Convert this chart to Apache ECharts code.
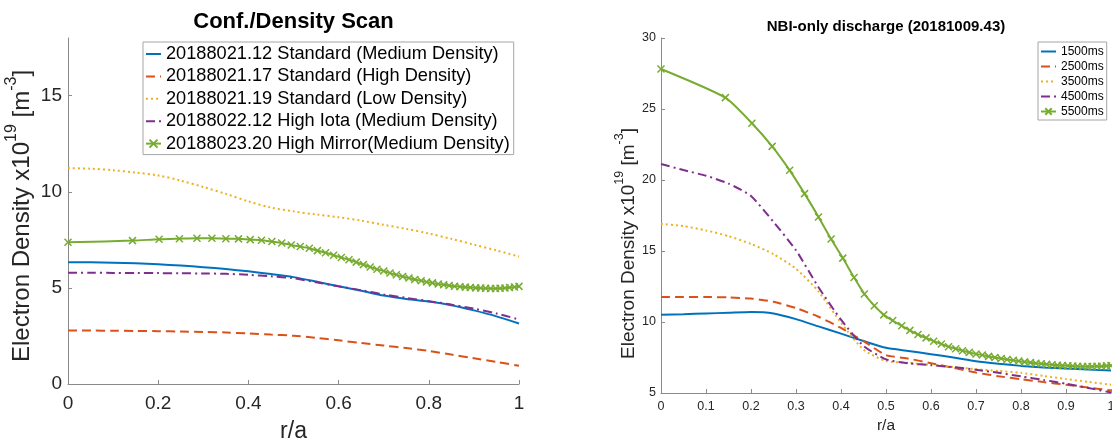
<!DOCTYPE html>
<html>
<head>
<meta charset="utf-8">
<script src="https://cdn.jsdelivr.net/npm/echarts@6/dist/echarts.min.js"></script>
<style>
  html, body { margin: 0; padding: 0; background: #fff; }
  #chart { width: 1112px; height: 440px; }
</style>
</head>
<body>
<div id="chart"></div>
<script>
// radial grid of the profiles with markers (dense towards the edge)
const rGrid = [0, 0.143, 0.202, 0.247, 0.286, 0.319, 0.350, 0.378, 0.404, 0.429,
  0.452, 0.474, 0.495, 0.515, 0.535, 0.553, 0.571, 0.589, 0.606, 0.623,
  0.639, 0.655, 0.670, 0.685, 0.700, 0.714, 0.728, 0.742, 0.756, 0.769,
  0.783, 0.795, 0.808, 0.821, 0.833, 0.845, 0.857, 0.869, 0.881, 0.892,
  0.904, 0.915, 0.926, 0.937, 0.948, 0.958, 0.969, 0.979, 0.990, 1.000];
// sampling used for the plain curves
const rStep = [0, 0.05, 0.1, 0.15, 0.2, 0.25, 0.3, 0.35, 0.4, 0.45, 0.5,
  0.55, 0.6, 0.65, 0.7, 0.75, 0.8, 0.85, 0.9, 0.95, 1];

// left panel: Conf./Density Scan
const scanNames = [
  '20188021.12 Standard (Medium Density)',
  '20188021.17 Standard (High Density)',
  '20188021.19 Standard (Low Density)',
  '20188022.12 High Iota (Medium Density)',
  '20188023.20 High Mirror(Medium Density)'
];
const stdMedium = [6.34, 6.33, 6.31, 6.28, 6.23, 6.16, 6.08, 5.98, 5.86, 5.72, 5.56,
  5.33, 5.08, 4.85, 4.60, 4.42, 4.29, 4.10, 3.83, 3.52, 3.15];
const stdHigh = [2.78, 2.78, 2.77, 2.76, 2.75, 2.73, 2.71, 2.68, 2.63, 2.57, 2.51,
  2.40, 2.27, 2.13, 2.00, 1.87, 1.72, 1.53, 1.34, 1.15, 0.95];
const stdLow = [11.23, 11.20, 11.12, 11.00, 10.85, 10.58, 10.25, 9.89, 9.50, 9.18, 8.98,
  8.82, 8.68, 8.50, 8.28, 8.07, 7.83, 7.55, 7.25, 6.95, 6.63];
const highIota = [5.79, 5.79, 5.78, 5.78, 5.77, 5.76, 5.75, 5.73, 5.68, 5.60, 5.50,
  5.29, 5.08, 4.88, 4.66, 4.48, 4.31, 4.13, 3.92, 3.67, 3.35];
const highMirror = [7.37, 7.46, 7.53, 7.56, 7.58, 7.58, 7.56, 7.55, 7.51, 7.48,
  7.41, 7.34, 7.23, 7.15, 7.06, 6.94, 6.83, 6.70, 6.58, 6.46,
  6.34, 6.21, 6.09, 5.97, 5.88, 5.77, 5.68, 5.59, 5.51, 5.44,
  5.37, 5.31, 5.26, 5.20, 5.16, 5.12, 5.09, 5.06, 5.04, 5.02,
  5.00, 4.99, 4.98, 4.97, 4.97, 4.98, 4.99, 5.02, 5.05, 5.08];

// right panel: NBI-only discharge
const timeNames = ['1500ms', '2500ms', '3500ms', '4500ms', '5500ms'];
const t1500 = [10.51, 10.55, 10.60, 10.65, 10.70, 10.60, 10.20, 9.69, 9.18, 8.66, 8.18,
  7.96, 7.73, 7.50, 7.24, 7.06, 6.91, 6.80, 6.72, 6.65, 6.59];
const t2500 = [11.76, 11.76, 11.76, 11.73, 11.65, 11.42, 10.98, 10.37, 9.58, 8.65, 7.67,
  7.42, 7.10, 6.77, 6.44, 6.18, 5.97, 5.77, 5.58, 5.38, 5.18];
const t3500 = [16.92, 16.75, 16.45, 16.05, 15.50, 14.78, 13.75, 12.15, 9.95, 8.05, 7.25,
  7.12, 6.98, 6.83, 6.68, 6.55, 6.42, 6.20, 5.98, 5.78, 5.58];
const t4500 = [21.13, 20.70, 20.30, 19.75, 18.87, 17.05, 15.05, 12.45, 10.16, 8.32, 7.37,
  7.09, 6.96, 6.82, 6.64, 6.42, 6.17, 5.92, 5.65, 5.35, 5.04];
const t5500 = [27.82, 25.80, 24.00, 22.37, 20.68, 19.04, 17.40, 15.84, 14.50, 13.14,
  11.97, 11.15, 10.50, 10.10, 9.73, 9.41, 9.12, 8.88, 8.65, 8.45,
  8.26, 8.12, 7.98, 7.86, 7.75, 7.67, 7.58, 7.50, 7.43, 7.36,
  7.30, 7.25, 7.19, 7.14, 7.10, 7.06, 7.02, 6.99, 6.96, 6.94,
  6.92, 6.90, 6.88, 6.87, 6.87, 6.87, 6.88, 6.89, 6.91, 6.93];

const leftYTicks = [0, 5, 10, 15];

// matlab default colours
const colors = ['#0072BD', '#D95319', '#EDB120', '#7E2F8E', '#77AC30'];
const dashes = ['solid', [9, 5], [2, 3], [9, 4, 2, 4], 'solid'];
const crossMark = 'path://M0,0L10,10M10,0L0,10';
const axisGray = '#8a8a8a';
const labelColor = '#262626';

const pairs = (xs, ys) => ys.map((v, i) => [xs[i], v]);

function makeSeries(names, datas, xs, idx, smooth) {
  return names.map((name, i) => {
    const marked = i === 4;
    return {
      name: name,
      type: 'line',
      xAxisIndex: idx,
      yAxisIndex: idx,
      data: pairs(xs[i], datas[i]),
      smooth: smooth,
      symbol: marked ? crossMark : 'none',
      symbolSize: 7,
      showSymbol: marked,
      itemStyle: { color: colors[i], borderColor: colors[i], borderWidth: 1.5 },
      lineStyle: { color: colors[i], width: 2, type: dashes[i] },
      emphasis: { disabled: true },
    };
  });
}

// legend entries: hide the default dot for curves drawn without markers
const legendItems = (names) => names.map((n, i) =>
  i === 4 ? { name: n } : { name: n, itemStyle: { opacity: 0 } });

function yName(size, supSize, pad) {
  return {
    text: '{a|Electron Density x10}{s|19}{a| [m}{s|-3}{a|]}',
    style: {
      padding: pad,
      rich: {
        a: { fontSize: size, lineHeight: size + 6, verticalAlign: 'bottom', color: labelColor },
        s: { fontSize: supSize, lineHeight: supSize + 2, verticalAlign: 'top', color: labelColor },
      },
    },
  };
}

const chart = echarts.init(document.getElementById('chart'), null, { renderer: 'canvas' });
const yl = yName(24, 16, [0, 10, 0, 0]);
const yr = yName(19, 12.5, [0, 56, 0, 0]);

const option = {
  animation: false,
  textStyle: { fontFamily: 'Liberation Sans' },
  title: [
    {
      text: 'Conf./Density Scan',
      left: 293.5, top: 11, textAlign: 'center', padding: 0,
      textStyle: { fontSize: 22, fontWeight: 'bold', color: '#000' },
    },
    {
      text: 'NBI-only discharge (20181009.43)',
      left: 886, top: 19, textAlign: 'center', padding: 0,
      textStyle: { fontSize: 15, fontWeight: 'bold', color: '#000' },
    },
  ],
  legend: [
    {
      data: legendItems(scanNames),
      orient: 'vertical',
      left: 143, top: 42,
      padding: [2, 4, 1, 2],
      itemWidth: 15, itemHeight: 10, itemGap: 2.4,
      backgroundColor: '#fff',
      borderColor: '#a6a6a6', borderWidth: 1,
      textStyle: { fontSize: 18.2, lineHeight: 20, color: '#000' },
      selectedMode: false,
    },
    {
      data: legendItems(timeNames),
      orient: 'vertical',
      left: 1038, top: 42,
      padding: [3, 3, 2, 2],
      itemWidth: 15, itemHeight: 8, itemGap: 2,
      backgroundColor: '#fff',
      borderColor: '#a6a6a6', borderWidth: 1,
      textStyle: { fontSize: 12, lineHeight: 13, color: '#000' },
      selectedMode: false,
    },
  ],
  grid: [
    { left: 68, top: 38, width: 451, height: 346, outerBoundsMode: 'none' },
    { left: 661, top: 38, width: 450, height: 355, outerBoundsMode: 'none' },
  ],
  xAxis: [
    {
      gridIndex: 0, type: 'value', min: 0, max: 1, interval: 0.2,
      name: 'r/a', nameLocation: 'middle', nameGap: 36,
      nameTextStyle: { fontSize: 23, color: labelColor },
      axisLine: { lineStyle: { color: axisGray } },
      axisTick: { inside: true, length: 4, lineStyle: { color: axisGray } },
      axisLabel: { fontSize: 19, color: labelColor, margin: 10 },
      splitLine: { show: false },
    },
    {
      gridIndex: 1, type: 'value', min: 0, max: 1, interval: 0.1,
      name: 'r/a', nameLocation: 'middle', nameGap: 24,
      nameTextStyle: { fontSize: 15.5, color: labelColor },
      axisLine: { lineStyle: { color: axisGray } },
      axisTick: { inside: true, length: 4, lineStyle: { color: axisGray } },
      axisLabel: { fontSize: 12.5, color: labelColor, margin: 7 },
      splitLine: { show: false },
    },
  ],
  yAxis: [
    {
      gridIndex: 0, type: 'value', min: 0, max: 18,
      name: yl.text, nameLocation: 'middle', nameGap: 34,
      nameTextStyle: yl.style,
      axisLine: { show: true, lineStyle: { color: axisGray } },
      axisTick: { inside: true, length: 4, customValues: leftYTicks, lineStyle: { color: axisGray } },
      axisLabel: { fontSize: 19, color: labelColor, margin: 6, customValues: leftYTicks },
      splitLine: { show: false },
    },
    {
      gridIndex: 1, type: 'value', min: 5, max: 30, interval: 5,
      name: yr.text, nameLocation: 'middle', nameGap: 17,
      nameTextStyle: yr.style,
      axisLine: { show: true, lineStyle: { color: axisGray } },
      axisTick: { inside: true, length: 4, lineStyle: { color: axisGray } },
      axisLabel: { fontSize: 12.5, color: labelColor, margin: 5 },
      splitLine: { show: false },
    },
  ],
  series: [
    ...makeSeries(scanNames, [stdMedium, stdHigh, stdLow, highIota, highMirror],
      [rStep, rStep, rStep, rStep, rGrid], 0, 0.3),
    ...makeSeries(timeNames, [t1500, t2500, t3500, t4500, t5500],
      [rStep, rStep, rStep, rStep, rGrid], 1, 0.2),
  ],
};

chart.setOption(option);
</script>
</body>
</html>
